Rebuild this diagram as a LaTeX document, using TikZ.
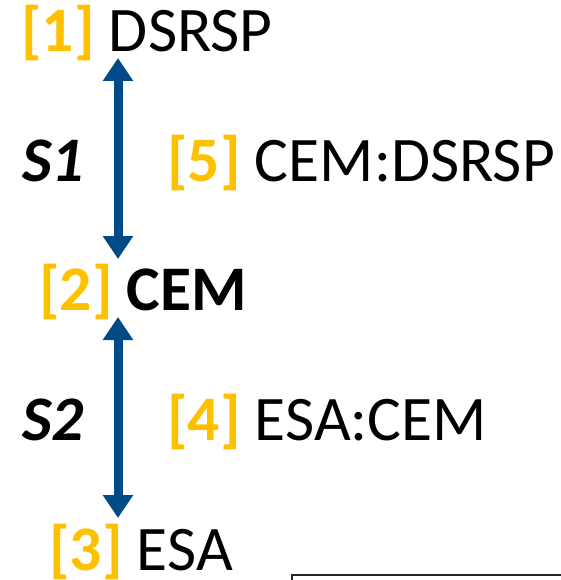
\documentclass[tikz,border=0pt]{standalone}
\usepackage{fontspec}
\setmainfont{Carlito}
\usetikzlibrary{arrows.meta}
\definecolor{refyellow}{HTML}{FFC000}
\definecolor{linkblue}{RGB}{0,75,135}
\newcommand{\tagnum}[1]{\textcolor{refyellow}{\textbf{[#1]}}}
\begin{document}
\begin{tikzpicture}[x=1pt,y=-1pt,
  label/.style={inner sep=0pt,anchor=base west,font=\fontsize{63.5}{70}\selectfont},
  link/.style={linkblue,line width=9pt,
    {Triangle[width=29pt,length=23pt]}-{Triangle[width=29pt,length=23pt]}},
  frame/.style={draw=black!85,line width=1.5pt}]
  \useasboundingbox (0,0) rectangle (561,580);
  % entity labels
  \node[label] (dsrsp) at (21,52) {\tagnum{1} DSRSP};
  \node[label] (cem)   at (39,310) {\tagnum{2} \textbf{CEM}};
  \node[label] (esa)   at (49,570) {\tagnum{3} ESA};
  % link labels
  \node[label] (s1) at (22,182) {\textbf{\textit{S1}}};
  \node[label] (s2) at (22,440) {\textbf{\textit{S2}}};
  \node[label] (l5) at (167,182) {\tagnum{5} CEM:DSRSP};
  \node[label] (l4) at (167,440) {\tagnum{4} ESA:CEM};
  % arrow end points
  \coordinate (a1) at (118,58);
  \coordinate (b1) at (118,259);
  \coordinate (a2) at (118,317);
  \coordinate (b2) at (118,518);
  \draw[link] (a1) -- (b1);
  \draw[link] (a2) -- (b2);
  % box edge in the lower right corner
  \begin{scope}
    \clip (0,0) rectangle (561,580);
    \draw[frame] (292,575) rectangle (620,640);
  \end{scope}
\end{tikzpicture}
\end{document}
